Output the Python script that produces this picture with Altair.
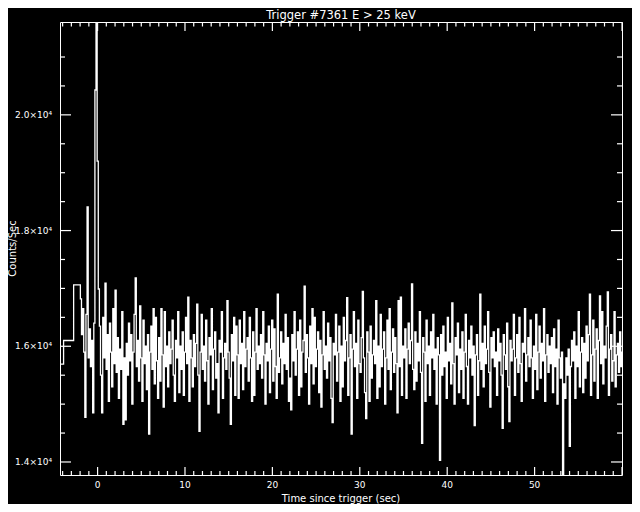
import altair as alt
import numpy as np
import pandas as pd

# ---- data ----
# coarse pre-trigger bins: start times (s) and count rates
coarse_start = [-5.0, -3.89, -2.74]
coarse_counts = [15690, 16100, 17060]

# fine-resolution bins from -1.97 s, 0.128 s wide
fine_start = -1.97
fine_width = 0.128

counts_a = [  # -2 .. 11 s
    16820, 16200, 16650, 15900, 14770, 16550, 18410, 15800, 16300, 15650,
    16100, 14850, 16400, 20430, 21600, 19200, 16990, 16350, 15500, 14850,
    16500, 15800, 17090, 15600, 16200, 15050, 16400, 15900, 15300, 16650,
    15700, 16970, 15550, 16150, 15100, 15950, 15600, 16600, 14650, 15800,
    14730, 16050, 15500, 16400, 15750, 16200, 15000, 15900, 16550, 17180,
    15650, 16100, 15400, 16700, 15800, 15050, 16450, 15700, 16000, 15250,
    16200, 14480, 15900, 16350, 15600, 16650, 15350, 16500, 15750, 15100,
    16150, 15400, 16650, 15850, 14950, 16600, 15650, 16000, 15300, 16250,
    15700, 15950, 16450, 15500, 15050, 16100, 15800, 16600, 15200, 16000,
    15600, 16250, 15150, 15900, 16500, 15700, 16850, 15050, 16100, 15800,
]
counts_b = [  # 11 .. 24 s
    15300, 16200, 15650, 16050, 16730, 15500, 14530, 15900, 16550, 15600,
    16000, 15400, 16450, 15750, 15000, 16150, 15850, 16650, 15250, 15950,
    16250, 15450, 15700, 14850, 16100, 15900, 16600, 15100, 15800, 16050,
    15600, 16790, 15900, 15450, 14650, 16200, 15750, 16500, 15150, 16350,
    15850, 15100, 16450, 15700, 16050, 15250, 16600, 15650, 15950, 16150,
    15400, 16500, 15800, 15050, 16250, 15150, 15900, 16650, 15600, 16000,
    15700, 16200, 15450, 16600, 15850, 15000, 16050, 15750, 16350, 15200,
    15950, 16450, 15400, 16300, 15650, 15100, 16900, 15550, 15800, 16250,
    15350, 16050, 15700, 16550, 15600, 16150, 15050, 15450, 14900, 16200,
    15750, 16600, 15500, 15950, 16250, 15150, 16450, 15300, 15900, 16100,
]
counts_c = [  # 24 .. 37 s
    17040, 15550, 16200, 15800, 15000, 16350, 15700, 16650, 15350, 16500,
    15650, 15950, 16250, 15200, 16100, 14950, 15850, 16600, 15600, 16000,
    15450, 16400, 15750, 16150, 15100, 14680, 16050, 15850, 16550, 15400,
    15900, 16350, 15050, 16000, 15300, 16500, 15750, 16100, 16840, 15150,
    15800, 16200, 14480, 15950, 16600, 15650, 16050, 15100, 16450, 15700,
    15550, 16150, 16950, 15800, 15200, 14750, 16250, 15900, 15050, 16350,
    15450, 15850, 16100, 15700, 16790, 15100, 16000, 15300, 16550, 15650,
    15950, 16250, 15000, 15800, 16450, 15600, 16650, 15250, 15900, 16300,
    15550, 16150, 15700, 14850, 16790, 15650, 16850, 15150, 16000, 15800,
    16300, 15100, 15950, 16400, 15700, 16100, 17080, 15600, 15250, 16250,
]
counts_d = [  # 37 .. 49 s
    15400, 16050, 15750, 16600, 15550, 14320, 16150, 15900, 15050, 16450,
    15700, 16000, 15150, 16250, 15800, 16550, 15600, 15950, 15000, 16150,
    15850, 14030, 16200, 15500, 16350, 15650, 15900, 15100, 16500, 15750,
    16050, 15350, 16750, 15700, 15000, 16150, 15850, 16400, 15200, 15950,
    15600, 16250, 15100, 15900, 16550, 15650, 15000, 16100, 15800, 16350,
    15500, 16000, 14630, 15850, 16200, 15150, 15750, 16900, 15600, 16050,
    15300, 16350, 15700, 15950, 16600, 15550, 14950, 16150, 15800, 16250,
    15650, 15900, 15150, 16300, 15750, 16050, 15500, 14580, 16200, 15850,
    15600, 16400, 15300, 14700, 16100, 15750, 15950, 16550, 15150, 15800,
    16200, 15550, 16500, 15700, 15050, 16050, 15900, 16650, 15400, 15850,
]
counts_e = [  # 49 .. 60 s
    16150, 15650, 16450, 15800, 15100, 16000, 15600, 16550, 15250, 15900,
    16350, 15450, 16050, 15750, 16650, 15050, 15850, 16200, 15550, 16000,
    15700, 16150, 15200, 16300, 15650, 15950, 15000, 16450, 15800, 15450,
    15900, 13780, 15350, 15100, 15800, 15500, 15950, 14270, 15650, 16100,
    15750, 16250, 15100, 16000, 15650, 16600, 15300, 15900, 16150, 15200,
    16050, 15450, 16350, 15750, 16200, 16900, 15150, 15850, 16450, 15400,
    15950, 16300, 15100, 16100, 16870, 15700, 16600, 15350, 16000, 15800,
    16350, 16940, 15150, 15950, 16200, 15400, 15750, 16600, 15300, 15850,
    16050, 15550, 16250, 15650, 15900, 15700,
]

# axis ticks and labels
x_labels = [0, 10, 20, 30, 40, 50]
x_major = [0, 10, 20, 30, 40, 50, 60]
x_minor = [v for v in range(-4, 60) if v % 10 != 0]
y_major = [14000, 16000, 18000, 20000]
y_minor = [14500, 15000, 15500, 16500, 17000, 17500, 18500, 19000, 19500,
           20500, 21000]
title_text = "Trigger #7361 E > 25 keV"
x_title = "Time since trigger (sec)"
y_title = "Counts/Sec"

# ---- build tables ----
fine_counts = counts_a + counts_b + counts_c + counts_d + counts_e
t_fine = fine_start + fine_width * np.arange(len(fine_counts))
times = coarse_start + list(t_fine) + [fine_start + fine_width * len(fine_counts)]
values = coarse_counts + fine_counts + [fine_counts[-1]]
df = pd.DataFrame({"t": times, "c": values})

W, H = 562, 453
FONT = "DejaVu Sans"
xs = alt.Scale(domain=[-4.3, 60], nice=False, zero=False)
ys = alt.Scale(domain=[13775, 21605], nice=False, zero=False)

line = alt.Chart(df).mark_line(
    interpolate="step-after", color="white", strokeWidth=1.3, clip=True
).encode(
    x=alt.X("t:Q", scale=xs, axis=None),
    y=alt.Y("c:Q", scale=ys, axis=None),
)

txt = dict(color="white", font=FONT)

x_lab = alt.Chart(pd.DataFrame({
    "xl": x_labels, "s": [str(v) for v in x_labels]})).mark_text(
    baseline="top", fontSize=9, **txt
).encode(x=alt.X("xl:Q", scale=xs, axis=None), y=alt.value(H + 6), text="s:N")

y_lab = alt.Chart(pd.DataFrame({
    "yl": y_major, "s": [f"{v / 10000:.1f}×10⁴" for v in y_major]})).mark_text(
    align="right", baseline="middle", fontSize=9, **txt
).encode(y=alt.Y("yl:Q", scale=ys, axis=None), x=alt.value(-8), text="s:N")

x_ttl = alt.Chart(pd.DataFrame({"s": [x_title]})).mark_text(
    align="center", baseline="alphabetic", fontSize=10, **txt
).encode(x=alt.value(W / 2), y=alt.value(H + 27), text="s:N")

y_ttl = alt.Chart(pd.DataFrame({"s": [y_title]})).mark_text(
    align="center", baseline="alphabetic", angle=270, fontSize=10, **txt
).encode(x=alt.value(-44.5), y=alt.value(H / 2), text="s:N")

main_ttl = alt.Chart(pd.DataFrame({"s": [title_text]})).mark_text(
    align="center", baseline="alphabetic", fontSize=11.5, **txt
).encode(x=alt.value(W / 2), y=alt.value(-3), text="s:N")


def x_ticks(vals, name, y0, y1):
    return alt.Chart(pd.DataFrame({name: vals})).mark_rule(
        color="white", strokeWidth=1.2
    ).encode(x=alt.X(f"{name}:Q", scale=xs, axis=None),
             y=alt.value(y0), y2=alt.value(y1))


def y_ticks(vals, name, x0, x1):
    return alt.Chart(pd.DataFrame({name: vals})).mark_rule(
        color="white", strokeWidth=1.2
    ).encode(y=alt.Y(f"{name}:Q", scale=ys, axis=None),
             x=alt.value(x0), x2=alt.value(x1))


# inward ticks on all four sides of the frame
ticks = [
    x_ticks(x_major, "xb", H, H - 8), x_ticks(x_minor, "xbm", H, H - 4),
    x_ticks(x_major, "xt", 0, 9), x_ticks(x_minor, "xtm", 0, 4.5),
    y_ticks(y_major, "yl0", 0, 11), y_ticks(y_minor, "ylm", 0, 5),
    y_ticks(y_major, "yr0", W, W - 11), y_ticks(y_minor, "yrm", W, W - 5),
]

chart = alt.layer(line, x_lab, y_lab, x_ttl, y_ttl, main_ttl, *ticks).properties(
    width=W,
    height=H,
    background="black",
    padding={"left": 52, "top": 14, "right": 10, "bottom": 29},
    autosize=alt.AutoSizeParams(type="none"),
).configure_view(
    stroke="white", strokeWidth=1
)

chart.save("out.html", embed_options={"renderer": "svg", "actions": False})
